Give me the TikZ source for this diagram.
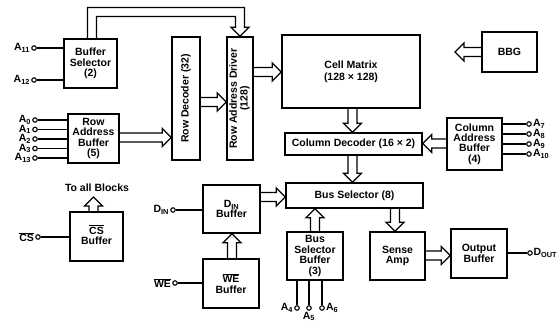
\documentclass[tikz,border=0pt]{standalone}
\usepackage{fontspec}
\setmainfont{Liberation Sans}
\usetikzlibrary{calc}
\newcommand{\bfont}{\fontsize{10.5}{10.4}\selectfont\bfseries}
\begin{document}
\begin{tikzpicture}[x=1pt,y=-1pt,
  box/.style={draw, line width=1.5pt, inner sep=0pt, align=center, font=\bfont},
  pinc/.style={circle, draw, line width=1.1pt, inner sep=0pt, minimum size=4.5pt, fill=white},
  lbl/.style={inner sep=1pt, font=\bfont},
  wire/.style={line width=1.2pt},
  headline/.style={line width=1.4pt, line join=miter},
  hollow/.style={line width=1.4pt, line join=miter, to path={
    let \p1=(\tikztostart), \p2=(\tikztotarget),
        \n1={atan2(\y2-\y1,\x2-\x1)}, \n2={veclen(\x2-\x1,\y2-\y1)} in
    [shift={(\p1)}, rotate=\n1]
    (0pt,-4.5pt) -- ({\n2-9pt},-4.5pt) -- ({\n2-9pt},-9pt) -- ({\n2*1pt},0pt)
    -- ({\n2-9pt},9pt) -- ({\n2-9pt},4.5pt) -- (0pt,4.5pt)}},
]
\useasboundingbox (0,0) rectangle (558,324);

% boxes
\node[box, minimum width=53pt, minimum height=49pt] (bs) at (90.5,63.5) {Buffer\\Selector\\(2)};
\node[box, minimum width=51pt, minimum height=49pt] (rab) at (93.5,138.5) {Row\\Address\\Buffer\\(5)};
\node[box, minimum width=28pt, minimum height=123pt] (rd) at (186,98.5) {\rotatebox{90}{Row Decoder (32)}};
\node[box, minimum width=26pt, minimum height=123pt] (rad) at (240,98.5) {\rotatebox{90}{\begin{tabular}{@{}c@{}}Row Address Driver\\(128)\end{tabular}}};
\node[box, minimum width=138pt, minimum height=73pt] (cm) at (351,71.5) {Cell Matrix\\[1.5pt](128 × 128)};
\node[box, minimum width=55pt, minimum height=40pt] (bbg) at (509.5,52) {BBG};
\node[box, minimum width=137pt, minimum height=22pt] (cd) at (353.5,144) {Column Decoder (16 × 2)};
\node[box, minimum width=55pt, minimum height=52pt] (cab) at (474.5,144) {Column\\Address\\Buffer\\(4)};
\node[box, minimum width=137pt, minimum height=25pt] (bsel) at (354.5,195.5) {Bus Selector (8)};
\node[box, minimum width=57pt, minimum height=48pt] (din) at (231.5,209) {D\textsubscript{IN}\\Buffer};
\node[box, minimum width=56pt, minimum height=49pt] (web) at (231,283.5) {$\overline{\mbox{WE}}$\\Buffer};
\node[box, minimum width=56pt, minimum height=48pt] (bsb) at (315,256) {Bus\\Selector\\Buffer\\(3)};
\node[box, minimum width=55pt, minimum height=48pt] (sa) at (397.5,256) {Sense\\Amp};
\node[box, minimum width=56pt, minimum height=49pt] (ob) at (479,253.5) {Output\\Buffer};
\node[box, minimum width=53pt, minimum height=49pt] (csb) at (96.5,236.5) {\raisebox{5pt}{\begin{tabular}{@{}c@{}}$\overline{\mbox{CS}}$\\Buffer\end{tabular}}};
\node[lbl] (toall) at (97,188) {To all Blocks};

% hollow arrows
\draw[hollow] (rab.east |- 0,137.5) to (rd.west |- 0,137.5);
\draw[hollow] (rd.east |- 0,102) to (rad.west |- 0,102);
\draw[hollow] (rad.east |- 0,72) to (cm.west |- 0,72);
\coordinate (bbgtip) at (455,52);
\draw[hollow] (bbg.west) to (bbgtip);
\draw[hollow] (cm.south -| 352.5,0) to (cd.north -| 352.5,0);
\draw[hollow] (cab.west |- 0,143.5) to (cd.east |- 0,143.5);
\draw[hollow] (cd.south -| 352.5,0) to (bsel.north -| 352.5,0);
\draw[hollow] (din.east |- 0,197) to (bsel.west |- 0,197);
\draw[hollow] (web.north -| 232,0) to (din.south -| 232,0);
\draw[hollow] (bsb.north -| 315,0) to (bsel.south -| 315,0);
\draw[hollow] (bsel.south -| 395,0) to (sa.north -| 395,0);
\draw[hollow] (sa.east |- 0,255.5) to (ob.west |- 0,255.5);
\coordinate (csup) at (93.5,197);
\draw[hollow] (csb.north -| 93.5,0) to (csup);

% bent arrow from buffer selector to row address driver
\coordinate (o1) at (87.5,7.5);
\coordinate (i1) at (96.5,16.5);
\coordinate (ro) at ([xshift=4.5pt]rad.north);
\coordinate (ri) at ([xshift=-4.5pt]rad.north);
\coordinate (hb) at ([yshift=9pt]rad.north);
\draw[headline] (bs.north -| o1) |- (ro |- o1) -- (ro |- hb) -- ([xshift=9pt]hb)
  -- (rad.north) -- ([xshift=-9pt]hb) -- (ri |- hb) |- (i1) -- (bs.north -| i1);

% pins
\node[pinc] (a11) at (34,48) {};
\node[pinc] (a12) at (34,80) {};
\draw[wire] (a11) -- (bs.west |- a11);
\draw[wire] (a12) -- (bs.west |- a12);
\node[lbl, anchor=east] (la11) at (a11.west) {A\textsubscript{11}};
\node[lbl, anchor=east] (la12) at (a12.west) {A\textsubscript{12}};

\foreach \n/\y/\t in {r0/120/0, r1/129.5/1, r2/139/2, r3/148.5/3, r4/158/13} {
  \node[pinc] (\n) at (35,\y) {};
  \draw[wire] (\n) -- (rab.west |- \n);
  \node[lbl, anchor=east] (l\n) at (\n.west) {A\textsubscript{\t}};
}
\foreach \n/\y/\t in {c7/124/7, c8/134/8, c9/144/9, c10/154/10} {
  \node[pinc] (\n) at (529,\y) {};
  \draw[wire] (cab.east |- \n) -- (\n);
  \node[lbl, anchor=west] (l\n) at (\n.east) {A\textsubscript{\t}};
}

\node[pinc] (p4) at (297,308) {};
\node[pinc] (p5) at (309,308) {};
\node[pinc] (p6) at (322,308) {};
\draw[wire] (bsb.south -| p4) -- (p4);
\draw[wire] (bsb.south -| p5) -- (p5);
\draw[wire] (bsb.south -| p6) -- (p6);
\node[lbl, anchor=east] (lp4) at (p4.west) {A\textsubscript{4}};
\node[lbl, anchor=north] (lp5) at (p5.south) {A\textsubscript{5}};
\node[lbl, anchor=west] (lp6) at (p6.east) {A\textsubscript{6}};

\node[pinc] (pdin) at (173,210) {};
\draw[wire] (pdin) -- (din.west |- pdin);
\node[lbl, anchor=east] (lpdin) at (pdin.west) {D\textsubscript{IN}};
\node[pinc] (pwe) at (175,283) {};
\draw[wire] (pwe) -- (web.west |- pwe);
\node[lbl, anchor=east] (lpwe) at (pwe.west) {$\overline{\mbox{WE}}$};
\node[pinc] (pcs) at (38,237) {};
\draw[wire] (pcs) -- (csb.west |- pcs);
\node[lbl, anchor=east] (lpcs) at (pcs.west) {$\overline{\mbox{CS}}$};
\node[pinc] (pdout) at (530,253) {};
\draw[wire] (ob.east |- pdout) -- (pdout);
\node[lbl, anchor=west, inner sep=0.5pt] (lpdout) at (pdout.east) {D\textsubscript{OUT}};
\end{tikzpicture}
\end{document}
